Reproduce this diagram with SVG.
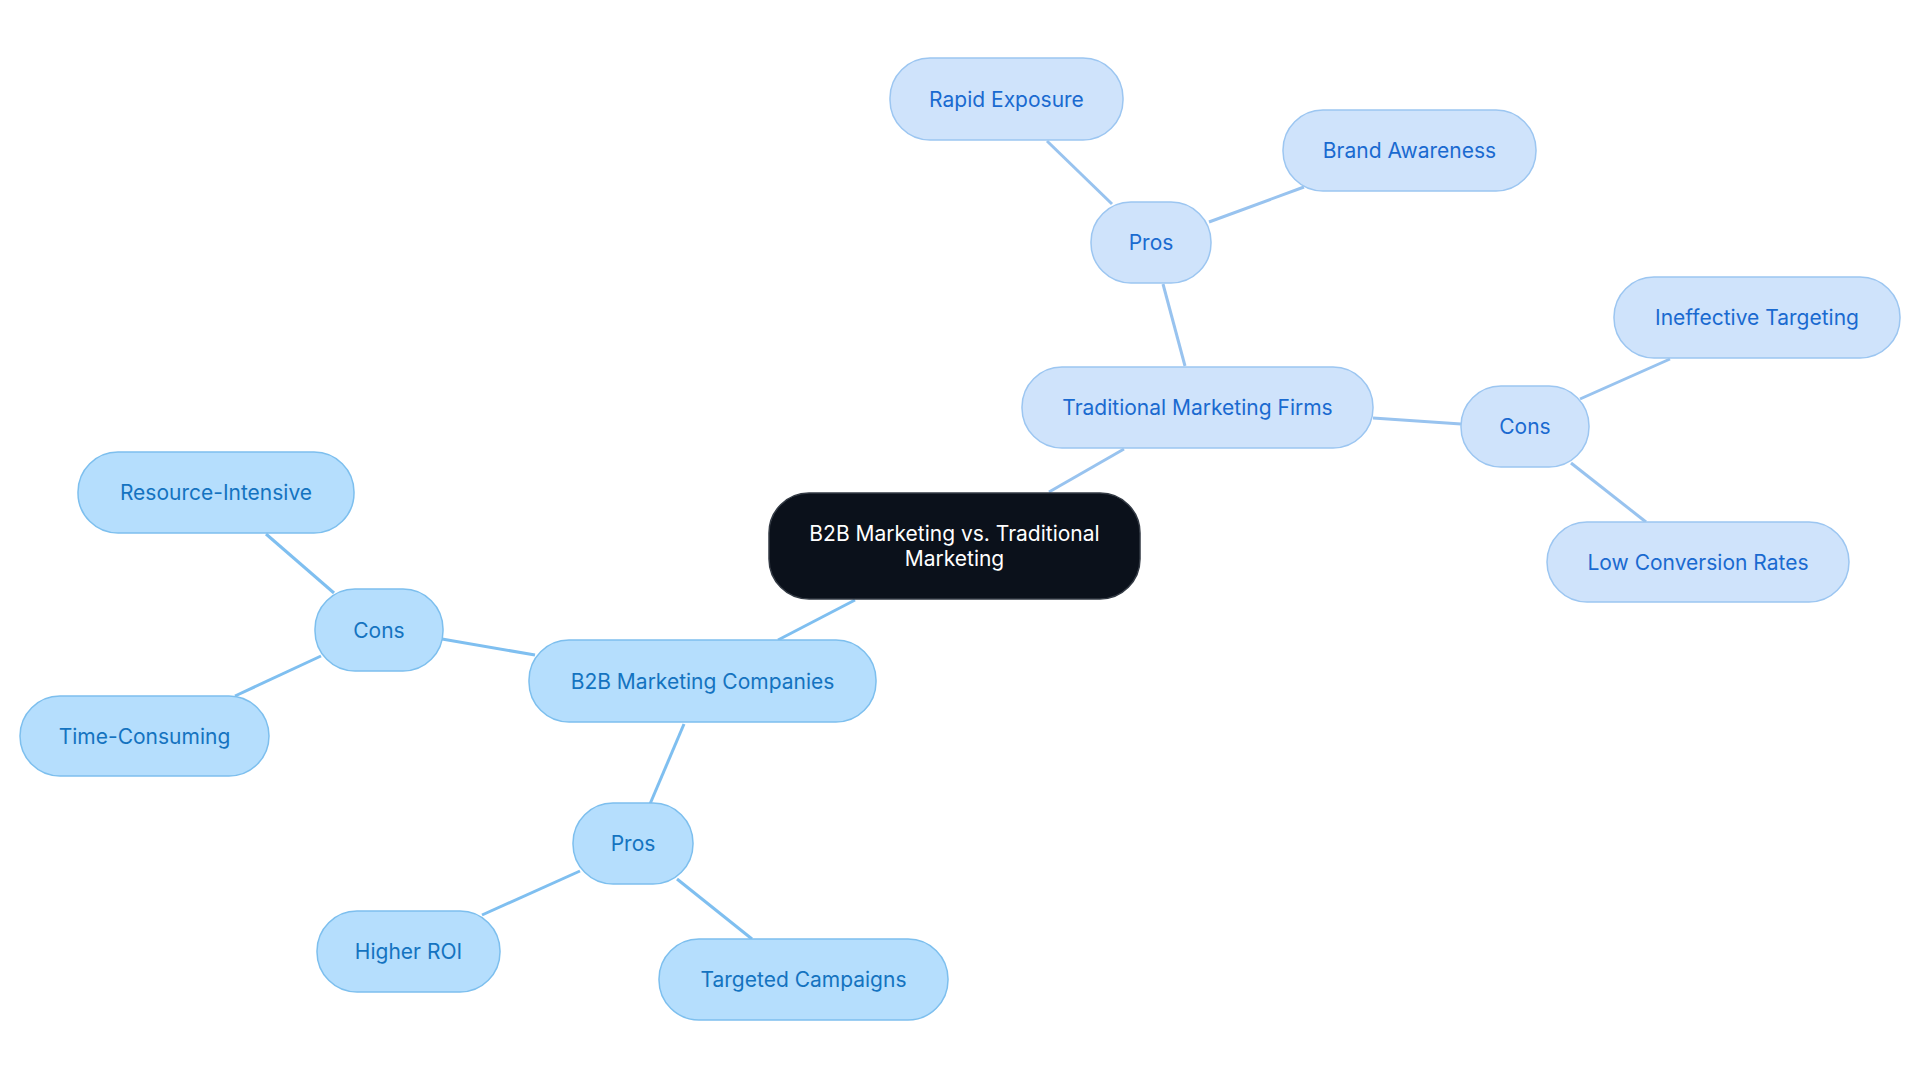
<svg xmlns="http://www.w3.org/2000/svg" width="1920" height="1083" viewBox="0 0 1920 1083">
<style>
text{font-family:Inter,"Noto Sans",sans-serif;font-size:21px;text-anchor:middle;dominant-baseline:central}
.r rect{fill:#cfe3fb;stroke:#9cc6f1;stroke-width:1.5}
.r text{fill:#1a6ad0}
.l rect{fill:#b5defd;stroke:#7dbfee;stroke-width:1.5}
.l text{fill:#1473c0}
.e line{stroke-width:3}
.er{stroke:#98c3ef}.el{stroke:#7fbff0}
</style>
<rect width="1920" height="1083" fill="#fff"/>
<g id="connectors" class="e">
<line class="er" x1="1049" y1="492" x2="1124" y2="449"/>
<line class="er" x1="1185" y1="366" x2="1163" y2="284"/>
<line class="er" x1="1112" y1="204" x2="1047" y2="141"/>
<line class="er" x1="1209" y1="222" x2="1304" y2="187"/>
<line class="er" x1="1373" y1="418" x2="1461" y2="424"/>
<line class="er" x1="1580" y1="399" x2="1670" y2="359"/>
<line class="er" x1="1571" y1="463" x2="1646" y2="522"/>
<line class="el" x1="855" y1="600" x2="778" y2="640"/>
<line class="el" x1="535" y1="655" x2="442" y2="639"/>
<line class="el" x1="334" y1="593" x2="266" y2="534"/>
<line class="el" x1="321" y1="656" x2="235" y2="696"/>
<line class="el" x1="684" y1="724" x2="650" y2="804"/>
<line class="el" x1="580" y1="871" x2="482" y2="915"/>
<line class="el" x1="677" y1="879" x2="752" y2="939"/>
</g>
<g id="central"><rect x="769" y="493" width="371" height="106" rx="40" fill="#0b111b" stroke="#333a44" stroke-width="1.5"/><text x="954.5" y="533" fill="#fff">B2B Marketing vs. Traditional</text><text x="954.5" y="558" fill="#fff">Marketing</text></g>
<g id="tmf" class="r"><rect x="1022" y="367" width="351" height="81" rx="40"/><text x="1197.5" y="407.5">Traditional Marketing Firms</text></g>
<g id="tpros" class="r"><rect x="1091" y="202" width="120" height="81" rx="40"/><text x="1151" y="242.5">Pros</text></g>
<g id="rapid" class="r"><rect x="890" y="58" width="233" height="82" rx="40"/><text x="1006.5" y="99">Rapid Exposure</text></g>
<g id="brand" class="r"><rect x="1283" y="110" width="253" height="81" rx="40"/><text x="1409.5" y="150.5">Brand Awareness</text></g>
<g id="tcons" class="r"><rect x="1461" y="386" width="128" height="81" rx="40"/><text x="1525" y="426.5">Cons</text></g>
<g id="ineff" class="r"><rect x="1614" y="277" width="286" height="81" rx="40"/><text x="1757" y="317.5">Ineffective Targeting</text></g>
<g id="lowconv" class="r"><rect x="1547" y="522" width="302" height="80" rx="40"/><text x="1698" y="562">Low Conversion Rates</text></g>
<g id="b2b" class="l"><rect x="529" y="640" width="347" height="82" rx="40"/><text x="702.5" y="681">B2B Marketing Companies</text></g>
<g id="bcons" class="l"><rect x="315" y="589" width="128" height="82" rx="40"/><text x="379" y="630">Cons</text></g>
<g id="resource" class="l"><rect x="78" y="452" width="276" height="81" rx="40"/><text x="216" y="492.5">Resource-Intensive</text></g>
<g id="time" class="l"><rect x="20" y="696" width="249" height="80" rx="40"/><text x="144.5" y="736">Time-Consuming</text></g>
<g id="bpros" class="l"><rect x="573" y="803" width="120" height="81" rx="40"/><text x="633" y="843.5">Pros</text></g>
<g id="roi" class="l"><rect x="317" y="911" width="183" height="81" rx="40"/><text x="408.5" y="951.5">Higher ROI</text></g>
<g id="targeted" class="l"><rect x="659" y="939" width="289" height="81" rx="40"/><text x="803.5" y="979.5">Targeted Campaigns</text></g>
</svg>
